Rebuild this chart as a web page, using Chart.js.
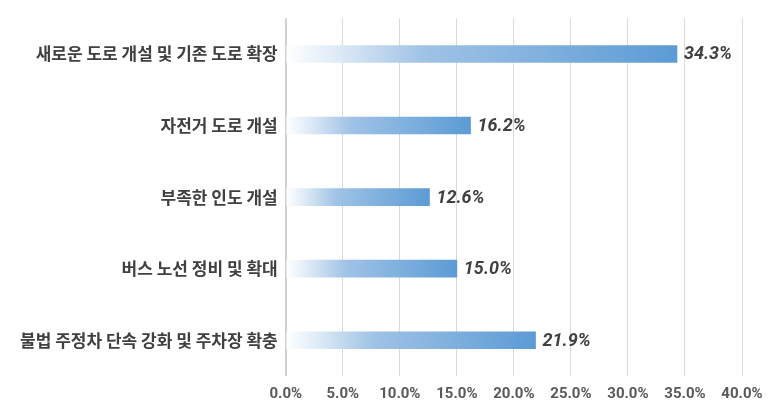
<!DOCTYPE html>
<html>
<head>
<meta charset="utf-8">
<script src="https://cdn.jsdelivr.net/npm/chart.js@4"></script>
<style>
  html, body { margin: 0; padding: 0; background: #fff; }
  #wrap { width: 779px; height: 409px; }
</style>
</head>
<body>
<div id="wrap"><canvas id="myChart"></canvas></div>
<script>
const categorias = [
  "새로운 도로 개설 및 기존 도로 확장",
  "자전거 도로 개설",
  "부족한 인도 개설",
  "버스 노선 정비 및 확대",
  "불법 주정차 단속 강화 및 주차장 확충",
];
const valores = [34.3, 16.2, 12.6, 15.0, 21.9];

const fuente = "'Noto Sans CJK KR', 'Noto Sans', sans-serif";
const fuenteNum = "Roboto, 'Noto Sans', sans-serif";

/*Gradiente por barra: blanco a azul*/
function gradienteBarra(context) {
  const chart = context.chart;
  const area = chart.chartArea;
  if (!area || !chart.scales.x) return "#5B9BD5";
  const x0 = chart.scales.x.getPixelForValue(0);
  const x1 = chart.scales.x.getPixelForValue(valores[context.dataIndex]);
  const g = chart.ctx.createLinearGradient(x0, 0, x1, 0);
  g.addColorStop(0, "rgba(255,255,255,1)");
  g.addColorStop(0.12, "rgba(225,236,247,1)");
  g.addColorStop(0.35, "rgba(160,195,230,1)");
  g.addColorStop(1, "rgba(91,155,213,1)");
  return g;
}

/*Etiquetas de valor al final de cada barra*/
const etiquetas = {
  id: "etiquetas",
  afterDatasetsDraw(chart) {
    const ctx = chart.ctx;
    const meta = chart.getDatasetMeta(0);
    ctx.save();
    ctx.font = "italic bold 18px " + fuenteNum;
    ctx.fillStyle = "#404040";
    ctx.textBaseline = "middle";
    ctx.textAlign = "left";
    meta.data.forEach((bar, i) => {
      ctx.fillText(valores[i].toFixed(1) + "%", bar.x + 7, bar.y + 1);
    });
    ctx.restore();
  },
};

const ctx = document.getElementById("myChart").getContext("2d");
const myChart = new Chart(ctx, {
  type: "bar",
  data: {
    labels: categorias,
    datasets: [
      {
        data: valores,
        backgroundColor: gradienteBarra,
        borderWidth: 0,
        barThickness: 17,
      },
    ],
  },
  options: {
    indexAxis: "y",
    responsive: true,
    maintainAspectRatio: false,
    animation: false,
    layout: {
      padding: { top: 12, right: 37, left: 12, bottom: -3 },
    },
    plugins: {
      legend: { display: false },
      tooltip: { enabled: false },
    },
    scales: {
      x: {
        min: 0,
        max: 40,
        ticks: {
          stepSize: 5,
          color: "#595959",
          font: { family: fuenteNum, size: 15, weight: "bold" },
          callback: (v) => v.toFixed(1) + "%",
          padding: 9,
        },
        grid: {
          color: (c) => (c.index === 0 ? "#d0d0d0" : "#d9d9d9"),
          lineWidth: (c) => (c.index === 0 ? 2 : 1),
          drawTicks: false,
        },
        border: { display: false },
      },
      y: {
        ticks: {
          color: "#404040",
          font: { family: fuente, size: 17, weight: "bold" },
          padding: 8,
        },
        grid: { display: false, drawTicks: false },
        border: { display: false },
      },
    },
  },
  plugins: [etiquetas],
});
</script>
</body>
</html>
